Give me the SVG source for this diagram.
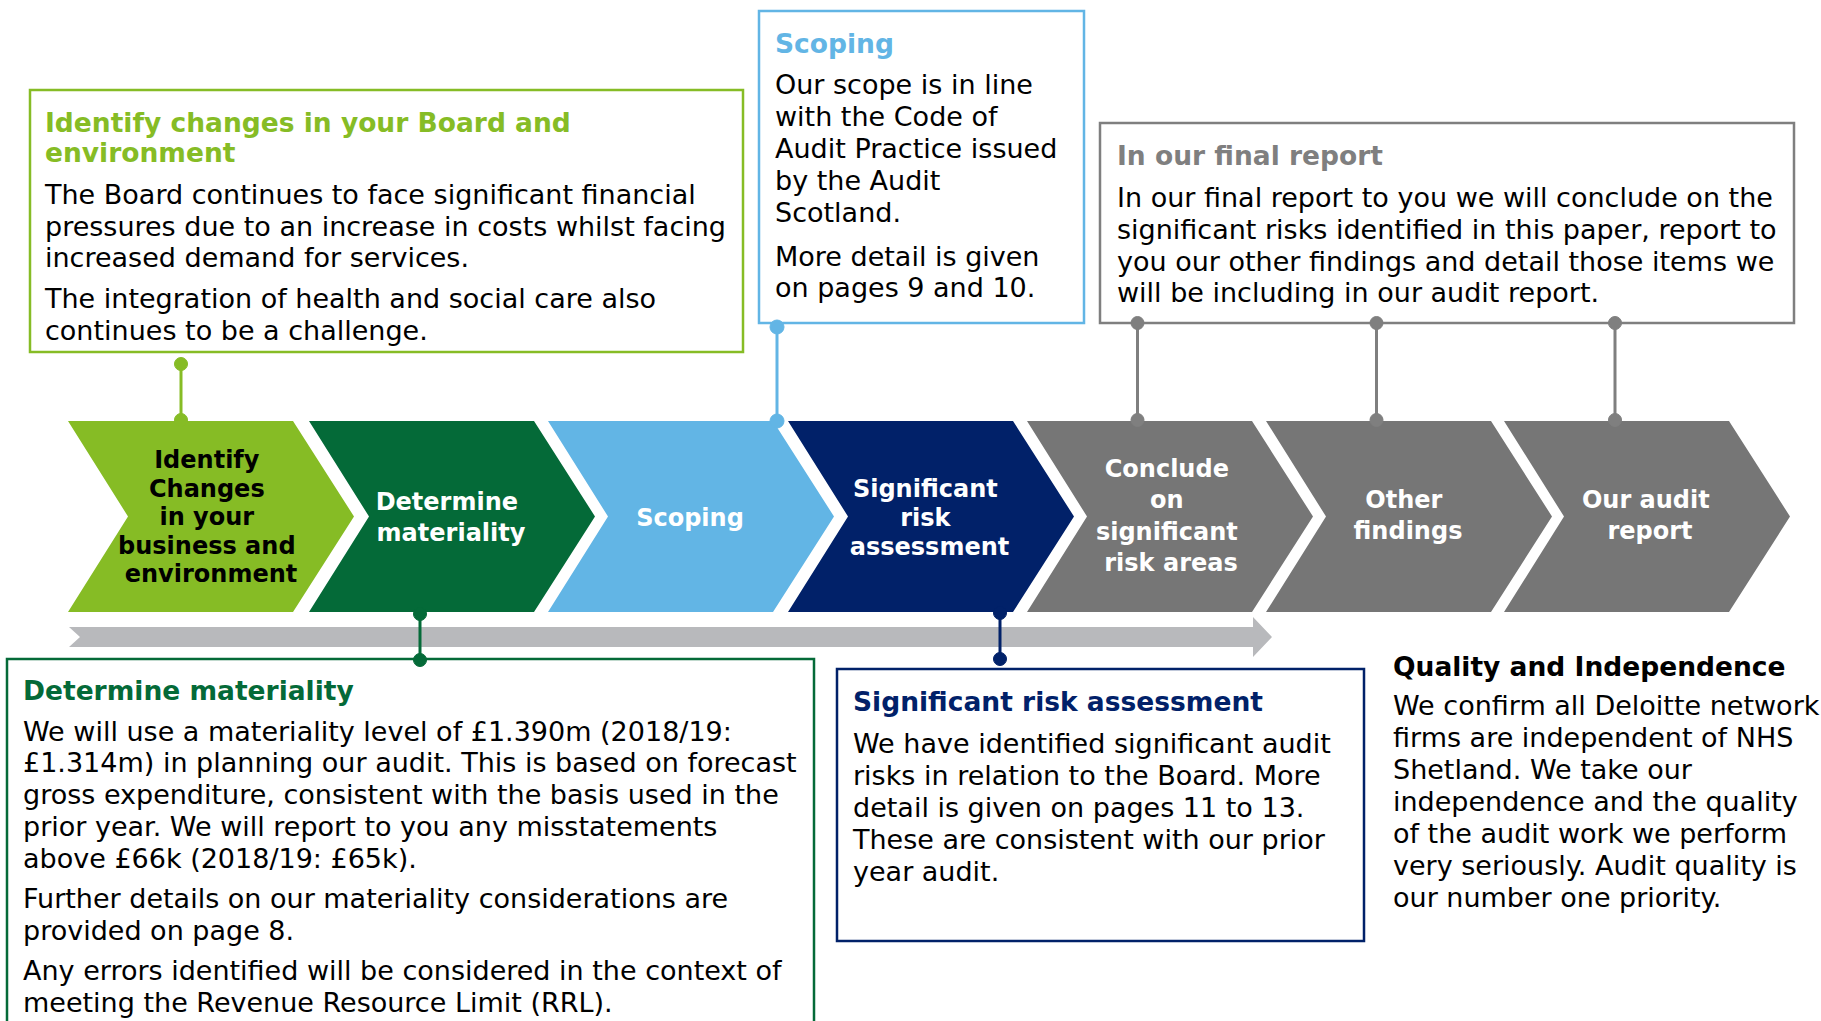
<svg xmlns="http://www.w3.org/2000/svg" width="1821" height="1021" viewBox="0 0 1821 1021">
  <style>
    text { font-family: "DejaVu Sans", Verdana, "Liberation Sans", sans-serif; }
    .body { font-size: 27px; fill: #000; }
    .title { font-size: 26.5px; font-weight: bold; }
    .chev-label { font-size: 24px; font-weight: bold; text-anchor: middle; }
    .box { fill: #fff; stroke-width: 2.5; }
    .stem { stroke-width: 3; fill: none; }
  </style>
  <defs>
    <!-- process step chevron, anchored at its top-left corner -->
    <polygon id="chevron" points="0,0 225,0 286,95.5 225,191 0,191 60,95.5"/>
  </defs>

  <rect width="1821" height="1021" fill="#fff"/>

  <!-- timeline bar beneath the steps -->
  <polygon id="timeline-bar" points="69,627 1253,627 1253,617 1272,637 1253,657 1253,647 69,647 80,637" fill="#B8B9BC"/>

  <!-- process steps -->
  <g id="step-identify">
    <use href="#chevron" x="68" y="421" fill="#86BC25"/>
    <text class="chev-label" fill="#000">
      <tspan x="211" y="467.5">Identify</tspan>
      <tspan x="211" y="496.5">Changes</tspan>
      <tspan x="211" y="525">in your</tspan>
      <tspan x="211" y="553.5">business and</tspan>
      <tspan x="211" y="582">environment</tspan>
    </text>
  </g>
  <g id="step-materiality">
    <use href="#chevron" x="309" y="421" fill="#046A38"/>
    <text class="chev-label" fill="#fff">
      <tspan x="451" y="509.5">Determine</tspan>
      <tspan x="451" y="541">materiality</tspan>
    </text>
  </g>
  <g id="step-scoping">
    <use href="#chevron" x="548" y="421" fill="#62B5E5"/>
    <text class="chev-label" fill="#fff" x="690" y="525.5">Scoping</text>
  </g>
  <g id="step-risk">
    <use href="#chevron" x="788" y="421" fill="#012169"/>
    <text class="chev-label" fill="#fff">
      <tspan x="929.5" y="497">Significant</tspan>
      <tspan x="929.5" y="526">risk</tspan>
      <tspan x="929.5" y="554.5">assessment</tspan>
    </text>
  </g>
  <g id="step-conclude">
    <use href="#chevron" x="1027" y="421" fill="#767676"/>
    <text class="chev-label" fill="#fff">
      <tspan x="1171" y="476.5">Conclude</tspan>
      <tspan x="1171" y="508">on</tspan>
      <tspan x="1171" y="540">significant</tspan>
      <tspan x="1171" y="571">risk areas</tspan>
    </text>
  </g>
  <g id="step-other">
    <use href="#chevron" x="1266" y="421" fill="#767676"/>
    <text class="chev-label" fill="#fff">
      <tspan x="1408" y="508">Other</tspan>
      <tspan x="1408" y="539">findings</tspan>
    </text>
  </g>
  <g id="step-report">
    <use href="#chevron" x="1504" y="421" fill="#767676"/>
    <text class="chev-label" fill="#fff">
      <tspan x="1650" y="508">Our audit</tspan>
      <tspan x="1650" y="539">report</tspan>
    </text>
  </g>

  <!-- detail boxes -->
  <g id="box-identify">
    <rect class="box" x="30" y="90" width="713" height="262" stroke="#86BC25"/>
    <text class="title" fill="#86BC25">
      <tspan x="45" y="131.5">Identify changes in your Board and</tspan>
      <tspan x="45" y="162">environment</tspan>
    </text>
    <text class="body">
      <tspan x="45" y="203.5">The Board continues to face significant financial</tspan>
      <tspan x="45" y="235.5">pressures due to an increase in costs whilst facing</tspan>
      <tspan x="45" y="267">increased demand for services.</tspan>
      <tspan x="45" y="307.5">The integration of health and social care also</tspan>
      <tspan x="45" y="339.5">continues to be a challenge.</tspan>
    </text>
  </g>

  <g id="box-scoping">
    <rect class="box" x="759" y="11" width="325" height="312" stroke="#62B5E5"/>
    <text class="title" fill="#62B5E5" x="775" y="53">Scoping</text>
    <text class="body">
      <tspan x="775" y="94">Our scope is in line</tspan>
      <tspan x="775" y="126">with the Code of</tspan>
      <tspan x="775" y="158">Audit Practice issued</tspan>
      <tspan x="775" y="190">by the Audit</tspan>
      <tspan x="775" y="221.5">Scotland.</tspan>
      <tspan x="775" y="266">More detail is given</tspan>
      <tspan x="775" y="297">on pages 9 and 10.</tspan>
    </text>
  </g>

  <g id="box-final-report">
    <rect class="box" x="1100" y="123" width="694" height="200" stroke="#7F7F7F"/>
    <text class="title" fill="#7F7F7F" x="1117" y="165">In our final report</text>
    <text class="body">
      <tspan x="1117" y="206.5">In our final report to you we will conclude on the</tspan>
      <tspan x="1117" y="238.5">significant risks identified in this paper, report to</tspan>
      <tspan x="1117" y="270.5">you our other findings and detail those items we</tspan>
      <tspan x="1117" y="302">will be including in our audit report.</tspan>
    </text>
  </g>

  <g id="box-materiality">
    <rect class="box" x="7" y="659" width="807" height="400" stroke="#046A38" stroke-width="2"/>
    <text class="title" fill="#046A38" x="23" y="700">Determine materiality</text>
    <text class="body">
      <tspan x="23" y="740.5">We will use a materiality level of £1.390m (2018/19:</tspan>
      <tspan x="23" y="772">£1.314m) in planning our audit. This is based on forecast</tspan>
      <tspan x="23" y="804">gross expenditure, consistent with the basis used in the</tspan>
      <tspan x="23" y="835.5">prior year. We will report to you any misstatements</tspan>
      <tspan x="23" y="867.5">above £66k (2018/19: £65k).</tspan>
      <tspan x="23" y="908">Further details on our materiality considerations are</tspan>
      <tspan x="23" y="940">provided on page 8.</tspan>
      <tspan x="23" y="980">Any errors identified will be considered in the context of</tspan>
      <tspan x="23" y="1012">meeting the Revenue Resource Limit (RRL).</tspan>
    </text>
  </g>

  <g id="box-risk">
    <rect class="box" x="837" y="669" width="527" height="272" stroke="#012169"/>
    <text class="title" fill="#012169" x="853" y="711">Significant risk assessment</text>
    <text class="body">
      <tspan x="853" y="753">We have identified significant audit</tspan>
      <tspan x="853" y="785">risks in relation to the Board. More</tspan>
      <tspan x="853" y="817">detail is given on pages 11 to 13.</tspan>
      <tspan x="853" y="848.5">These are consistent with our prior</tspan>
      <tspan x="853" y="880.5">year audit.</tspan>
    </text>
  </g>

  <g id="note-quality">
    <text class="title" fill="#000" x="1393" y="676">Quality and Independence</text>
    <text class="body">
      <tspan x="1393" y="715">We confirm all Deloitte network</tspan>
      <tspan x="1393" y="747">firms are independent of NHS</tspan>
      <tspan x="1393" y="779">Shetland. We take our</tspan>
      <tspan x="1393" y="811">independence and the quality</tspan>
      <tspan x="1393" y="843">of the audit work we perform</tspan>
      <tspan x="1393" y="875">very seriously. Audit quality is</tspan>
      <tspan x="1393" y="907">our number one priority.</tspan>
    </text>
  </g>

  <!-- connectors: stem with a dot at each end -->
  <g id="connectors">
    <g stroke="#86BC25" fill="#86BC25">
      <line class="stem" x1="181" y1="364" x2="181" y2="421"/>
      <circle cx="181" cy="364" r="6.5"/>
      <circle cx="181" cy="420" r="6.5"/>
    </g>
    <g stroke="#62B5E5" fill="#62B5E5">
      <line class="stem" x1="777" y1="327" x2="777" y2="421"/>
      <circle cx="777" cy="327" r="7"/>
      <circle cx="777" cy="421" r="7"/>
    </g>
    <g stroke="#7F7F7F" fill="#7F7F7F">
      <line class="stem" x1="1137.5" y1="323" x2="1137.5" y2="421"/>
      <circle cx="1137.5" cy="323" r="6.5"/>
      <circle cx="1137.5" cy="420" r="6.5"/>
      <line class="stem" x1="1376.5" y1="323" x2="1376.5" y2="421"/>
      <circle cx="1376.5" cy="323" r="6.5"/>
      <circle cx="1376.5" cy="420" r="6.5"/>
      <line class="stem" x1="1615" y1="323" x2="1615" y2="421"/>
      <circle cx="1615" cy="323" r="6.5"/>
      <circle cx="1615" cy="420" r="6.5"/>
    </g>
    <g stroke="#046A38" fill="#046A38">
      <line class="stem" x1="420" y1="613" x2="420" y2="660"/>
      <circle cx="420" cy="614" r="6.5"/>
      <circle cx="420" cy="660" r="6.5"/>
    </g>
    <g stroke="#012169" fill="#012169">
      <line class="stem" x1="1000" y1="612" x2="1000" y2="659"/>
      <circle cx="1000" cy="613" r="6.5"/>
      <circle cx="1000" cy="659" r="6.5"/>
    </g>
  </g>
</svg>
